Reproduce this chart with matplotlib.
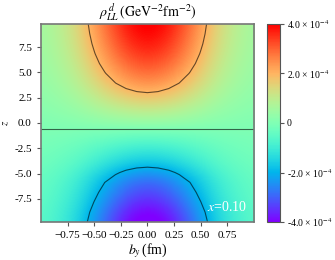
import matplotlib
matplotlib.use("Agg")
import matplotlib.pyplot as plt
import numpy as np
from matplotlib.ticker import FuncFormatter

plt.rcParams['font.family'] = ['Liberation Serif', 'DejaVu Serif']
plt.rcParams['mathtext.fontset'] = 'stix'

# transverse position b_y (fm) and longitudinal z
b_y = [-1.0, -0.9, -0.8, -0.7, -0.6, -0.5, -0.4, -0.3, -0.2, -0.1, 0.0,
       0.1, 0.2, 0.3, 0.4, 0.5, 0.6, 0.7, 0.8, 0.9, 1.0]
z = [-9.8, -8.82, -7.84, -6.86, -5.88, -4.9, -3.92, -2.94, -1.96, -0.98, 0.0,
     0.98, 1.96, 2.94, 3.92, 4.9, 5.88, 6.86, 7.84, 8.82, 9.8]

# profile along z at b_y = 0 (units 1e-4 GeV^-2 fm^-2)
rho_axis = [-4.2, -3.95, -3.6, -3.25, -2.9, -2.35, -1.7, -1.2, -0.7, -0.2, 0.35,
            0.9, 1.45, 1.97, 2.45, 2.85, 3.2, 3.5, 3.75, 3.95, 4.1]
# relative fall-off with |b_y|
fall_off = [0.14, 0.18, 0.24, 0.32, 0.43, 0.56, 0.69, 0.81, 0.91, 0.975, 1.0,
            0.975, 0.91, 0.81, 0.69, 0.56, 0.43, 0.32, 0.24, 0.18, 0.14]

rho = np.outer(rho_axis, fall_off) * 1e-4
b_y = np.array(b_y)
z = np.array(z)

fig = plt.figure(figsize=(3.35, 2.6), dpi=100)
ax = fig.add_axes([0.122, 0.146, 0.636, 0.762])

db = (b_y[1] - b_y[0]) / 2
dz = (z[1] - z[0]) / 2
im = ax.imshow(rho, origin='lower', cmap='rainbow', vmin=-4e-4, vmax=4e-4,
               extent=[b_y[0] - db, b_y[-1] + db, z[0] - dz, z[-1] + dz],
               aspect='auto', interpolation='bicubic')
ax.contour(b_y, z, rho, levels=[-2e-4, 0, 2e-4], colors='black',
           linewidths=0.8, alpha=0.6, linestyles='solid')

ax.set_xlim(-1, 1)
ax.set_ylim(-9.8, 9.8)
ax.set_xticks([-0.75, -0.5, -0.25, 0, 0.25, 0.5, 0.75])
ax.set_yticks([-7.5, -5, -2.5, 0, 2.5, 5, 7.5])
ax.yaxis.set_major_formatter(FuncFormatter(lambda v, p: '%.1f' % v))
ax.tick_params(labelsize=8, length=3, color='#555555')
for s in ax.spines.values():
    s.set_color('#777777')
    s.set_linewidth(1.2)

ax.set_xlabel(r'$b_y\,$(fm)', fontsize=10, labelpad=1)
ax.set_ylabel(r'$z$', fontsize=8)
ax.yaxis.set_label_coords(-0.14, 0.5)
ax.set_title(r'$\rho^{\,d}_{LL}\,(\mathrm{GeV}^{-2}\mathrm{fm}^{-2})$',
             fontsize=10, pad=3)
ax.text(0.56, -8.3, r'$x$=0.10', color='white', fontsize=10, va='center')

cax = fig.add_axes([267 / 335, 0.146, 13 / 335, 0.762])
cb = fig.colorbar(im, cax=cax, ticks=[-4e-4, -2e-4, 0, 2e-4, 4e-4])


def cb_fmt(v, p):
    if abs(v) < 1e-12:
        return '0'
    return '%.1f × 10$^{-4}$' % (v * 1e4)


cb.ax.yaxis.set_major_formatter(FuncFormatter(cb_fmt))
cb.ax.tick_params(labelsize=7, length=3, pad=2, color='#555555')
cb.outline.set_edgecolor('#555555')

fig.savefig('out.png', dpi=100)
